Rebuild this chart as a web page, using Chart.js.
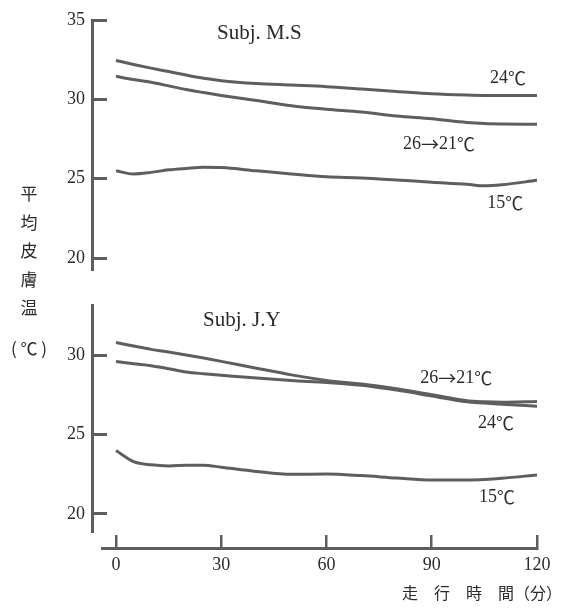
<!DOCTYPE html>
<html lang="ja">
<head>
<meta charset="UTF-8">
<title>平均皮膚温</title>
<script src="https://cdn.jsdelivr.net/npm/chart.js"></script>
<style>
  body { margin: 0; background: #fff; overflow: hidden; }
  #wrap { position: relative; width: 563px; height: 609px; }
  canvas { position: absolute; left: 0; }
  #ylab { position: absolute; left: 10px; top: 179px; width: 38px; text-align: center;
          font: 17px "Noto Sans CJK JP"; line-height: 28.5px; color: #2a2a2a; }
  #ylab span { display: block; margin-top: 12px; }
</style>
</head>
<body>
<div id="wrap">
  <canvas id="top" width="563" height="285" style="top:0"></canvas>
  <canvas id="bot" width="563" height="255" style="top:290px"></canvas>
  <canvas id="axis" width="563" height="89" style="top:520px"></canvas>
  <div id="ylab">平<br>均<br>皮<br>膚<br>温<span>( ℃ )</span></div>
</div>
<script>
// running time (min)
const minutes = [0, 5, 10, 15, 20, 25, 30, 40, 50, 60, 70, 80, 90, 100, 105, 110, 120];

// Subj. M.S
const msAt24 = [32.45, 32.2, 31.97, 31.75, 31.53, 31.33, 31.18, 31.0, 30.9, 30.8, 30.65, 30.5, 30.35, 30.27, 30.25, 30.25, 30.25];
const msAt26to21 = [31.45, 31.25, 31.08, 30.85, 30.62, 30.43, 30.25, 29.93, 29.6, 29.38, 29.2, 28.95, 28.78, 28.55, 28.48, 28.45, 28.43];
const msAt15 = [25.5, 25.3, 25.4, 25.56, 25.65, 25.72, 25.7, 25.5, 25.3, 25.12, 25.05, 24.92, 24.78, 24.65, 24.55, 24.62, 24.9];

// Subj. J.Y
const jyAt26to21 = [30.82, 30.6, 30.39, 30.22, 30.04, 29.84, 29.63, 29.2, 28.78, 28.43, 28.2, 27.9, 27.52, 27.15, 27.08, 27.05, 27.1];
const jyAt24 = [29.62, 29.48, 29.36, 29.17, 28.96, 28.85, 28.76, 28.58, 28.42, 28.3, 28.12, 27.82, 27.45, 27.08, 27.0, 26.92, 26.8];
const jyAt15 = [24.0, 23.3, 23.1, 23.03, 23.07, 23.08, 22.95, 22.68, 22.5, 22.52, 22.42, 22.27, 22.15, 22.15, 22.18, 22.25, 22.46];

const topTicks = [20, 25, 30, 35];
const botTicks = [20, 25, 30];
const timeTicks = [0, 30, 60, 90, 120];

// text placed in data units of each panel
const topTags = [
  { text: 'Subj. M.S', t: 28.8, v: 34.18, size: 21 },
  { text: '24℃', t: 106.6, v: 31.35 },
  { text: '26→21℃', t: 81.8, v: 27.19 },
  { text: '15℃', t: 105.8, v: 23.47 }
];
const botTags = [
  { text: 'Subj. J.Y', t: 24.8, v: 32.24, size: 21 },
  { text: '26→21℃', t: 86.7, v: 28.58 },
  { text: '24℃', t: 103.2, v: 25.74 },
  { text: '15℃', t: 103.5, v: 21.07 }
];

const ink = '#5e5e5e';
const textInk = '#2a2a2a';
const serif = '"Liberation Serif", "DejaVu Serif", serif';
const cjk = '"Noto Sans CJK JP", sans-serif';
Chart.defaults.animation = false;
Chart.defaults.font.family = serif;
Chart.defaults.color = textInk;

// serif digits, CJK-width arrow and degree sign
function drawMixed(ctx, text, x, y, size) {
  for (const ch of text) {
    ctx.font = size + 'px ' + (/[→℃]/.test(ch) ? cjk : serif);
    ctx.fillText(ch, x, y);
    x += ctx.measureText(ch).width;
  }
}

const tagPlugin = {
  id: 'tags',
  afterDatasetsDraw(chart, args, opts) {
    const ctx = chart.ctx, xs = chart.scales.x, ys = chart.scales.y;
    ctx.save();
    ctx.fillStyle = textInk;
    ctx.textBaseline = 'middle';
    ctx.textAlign = 'left';
    opts.items.forEach(it => {
      drawMixed(ctx, it.text, xs.getPixelForValue(it.t), ys.getPixelForValue(it.v), it.size || 18);
    });
    ctx.restore();
  }
};

function panel(id, series, yMin, yMax, yTicks, tags, padTop, padBottom) {
  return new Chart(document.getElementById(id), {
    type: 'line',
    data: {
      datasets: series.map(s => ({
        label: s[0],
        data: minutes.map((m, i) => ({ x: m, y: s[1][i] })),
        borderColor: ink,
        borderWidth: 3,
        pointRadius: 0,
        cubicInterpolationMode: 'monotone'
      }))
    },
    options: {
      responsive: false,
      layout: { padding: { top: padTop, bottom: padBottom, left: 0, right: 18 } },
      plugins: { legend: { display: false }, tooltip: { enabled: false }, tags: { items: tags } },
      scales: {
        x: { type: 'linear', display: false, min: -6.84, max: 122.28 },
        y: {
          min: yMin, max: yMax,
          afterFit: s => { s.width = 92; s.paddingTop = 10; s.paddingBottom = 10; },
          afterBuildTicks: s => { s.ticks = yTicks.map(v => ({ value: v })); },
          border: { color: ink, width: 3 },
          grid: { drawOnChartArea: false, tickLength: -15, tickWidth: 3, tickColor: ink },
          ticks: { padding: 22, font: { size: 18 }, color: textInk }
        }
      }
    },
    plugins: [tagPlugin]
  });
}

panel('top', [['24℃', msAt24], ['26→21℃', msAt26to21], ['15℃', msAt15]],
  19.25, 35, topTicks, topTags, 20, 15);
panel('bot', [['26→21℃', jyAt26to21], ['24℃', jyAt24], ['15℃', jyAt15]],
  18.86, 33.19, botTicks, botTags, 15, 13);

// shared time axis
new Chart(document.getElementById('axis'), {
  type: 'line',
  data: { datasets: [] },
  options: {
    responsive: false,
    layout: { padding: { top: 15, bottom: 6, left: 102, right: 1 } },
    plugins: {
      legend: { display: false },
      tooltip: { enabled: false },
      title: {
        display: true, position: 'bottom', align: 'end',
        text: '走　行　時　間（分）', color: textInk, padding: 0,
        font: { family: cjk, size: 16, weight: 'normal' }
      }
    },
    scales: {
      x: {
        type: 'linear', min: -3.99, max: 120,
        afterBuildTicks: s => { s.ticks = timeTicks.map(v => ({ value: v })); },
        afterFit: s => { s.height = 35.8; },
        border: { color: ink, width: 3 },
        grid: { color: ink, lineWidth: 2.5, drawTicks: false },
        ticks: { padding: 6, font: { size: 18 }, color: textInk, maxRotation: 0 }
      },
      y: { display: false },
      pad: {
        type: 'linear', position: 'right',
        ticks: { display: false }, grid: { display: false }, border: { display: false },
        afterFit: s => { s.width = 25; }
      }
    }
  }
});
</script>
</body>
</html>
